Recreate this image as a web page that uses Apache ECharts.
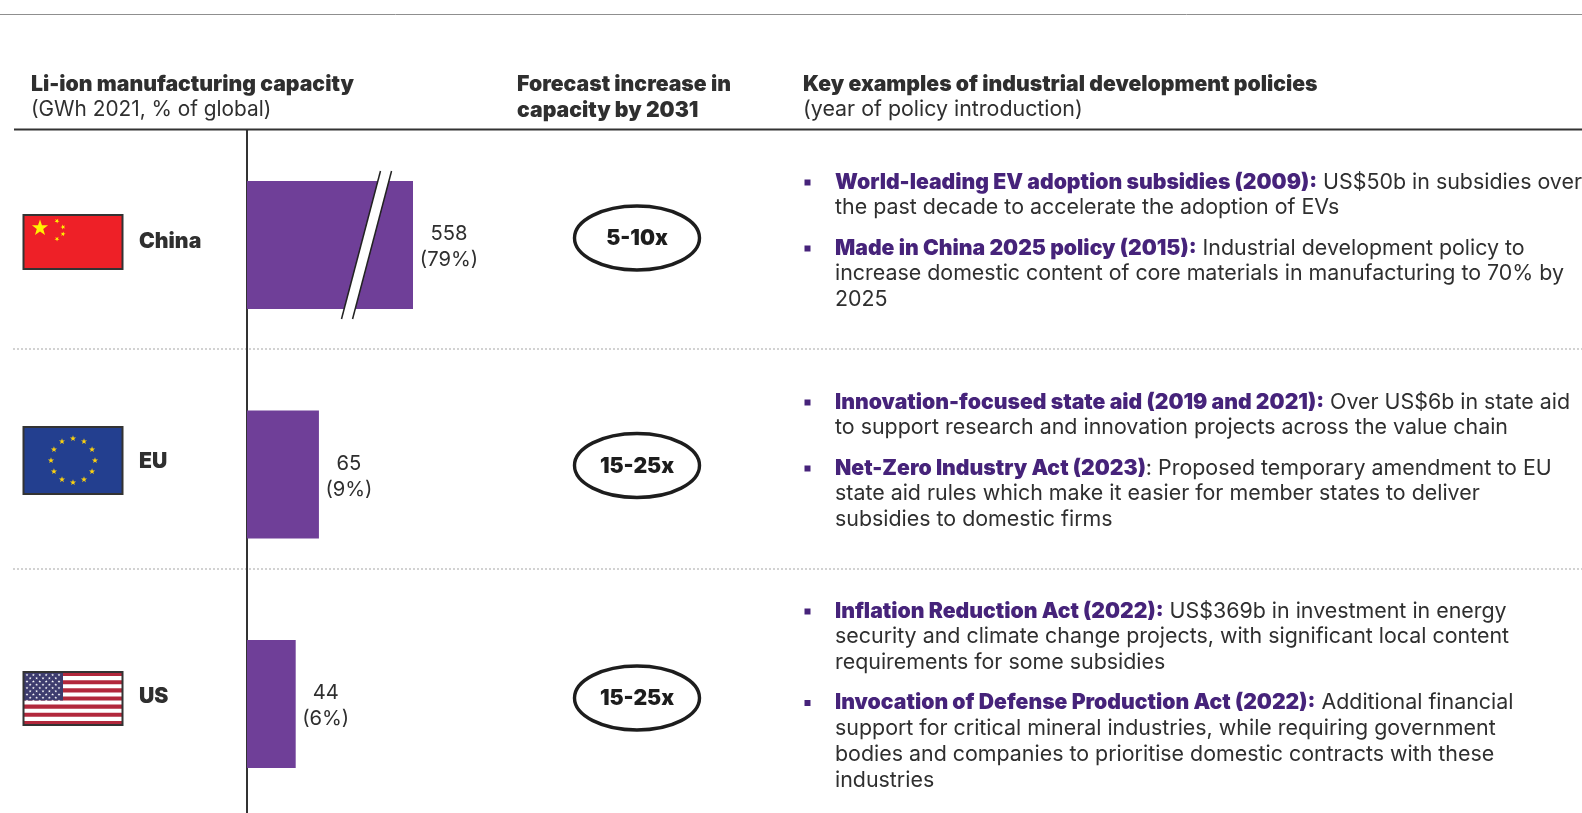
<!DOCTYPE html>
<html>
<head>
<meta charset="utf-8">
<title>Li-ion manufacturing capacity</title>
<style>
  html, body { margin: 0; padding: 0; background: #fff; overflow: hidden; height: 813px; }
  /* taller than the window: the last band runs past the bottom edge */
  #chart { width: 1582px; height: 830px; }
</style>
<script src="https://cdn.jsdelivr.net/npm/echarts@6/dist/echarts.min.js"></script>
</head>
<body>
<div id="chart"></div>
<script>
const regions = ['China', 'EU', 'US'];
const capacity = [558, 65, 44];
const shares = ['79%', '9%', '6%'];
const forecast = ['5-10x', '15-25x', '15-25x'];
const axisBreak = { start: 103, end: 521, gap: 10 };

const policiesChina = [
  '{b|World-leading EV adoption subsidies (2009):} US$50b in subsidies over',
  'the past decade to accelerate the adoption of EVs',
  '{b|Made in China 2025 policy (2015):} Industrial development policy to',
  'increase domestic content of core materials in manufacturing to 70% by',
  '2025'
];
const policiesEU = [
  '{b|Innovation-focused state aid (2019 and 2021):} Over US$6b in state aid',
  'to support research and innovation projects across the value chain',
  '{b|Net-Zero Industry Act (2023)}: Proposed temporary amendment to EU',
  'state aid rules which make it easier for member states to deliver',
  'subsidies to domestic firms'
];
const policiesUS = [
  '{b|Inflation Reduction Act (2022):} US$369b in investment in energy',
  'security and climate change projects, with significant local content',
  'requirements for some subsidies',
  '{b|Invocation of Defense Production Act (2022):} Additional financial',
  'support for critical mineral industries, while requiring government',
  'bodies and companies to prioritise domestic contracts with these',
  'industries'
];

const FONT = 'Inter, "Noto Sans", sans-serif';
const INK = '#2f2f2f';
const PURPLE = '#6f3f98';
const DEEP = '#46237a';
const BODY = 21.4;
const BOLD = 21.2;

const chart = echarts.init(document.getElementById('chart'), null, { renderer: 'canvas' });

function text(x, y, str, size, weight, color) {
  return {
    type: 'text', x, y,
    style: {
      text: str, fill: color || INK, verticalAlign: 'middle', align: 'left',
      font: `${weight || 400} ${size}px ${FONT}`
    }
  };
}

function line(x1, y1, x2, y2, stroke, width, dash) {
  return {
    type: 'line',
    shape: { x1, y1, x2, y2 },
    style: { stroke, lineWidth: width, lineDash: dash || null }
  };
}

function star(cx, cy, r, fill, rot) {
  const pts = [];
  for (let i = 0; i < 10; i++) {
    const a = -Math.PI / 2 + (rot || 0) + i * Math.PI / 5;
    const rr = i % 2 ? r * 0.4 : r;
    pts.push([cx + rr * Math.cos(a), cy + rr * Math.sin(a)]);
  }
  return { type: 'polygon', shape: { points: pts }, style: { fill } };
}

function rect(x, y, width, height, fill) {
  return { type: 'rect', shape: { x, y, width, height }, style: { fill } };
}

function flagFrame(y, h) {
  return { type: 'rect', shape: { x: 23.5, y, width: 99, height: h }, style: { fill: 'none', stroke: '#333', lineWidth: 2 } };
}

function chinaFlag() {
  const y = 215, h = 54;
  return [
    rect(23, y, 100, h, '#ee2027'),
    star(40, 228, 8.5, '#fff200'),
    star(57, 221, 2.6, '#fff200', 0.5),
    star(63, 227, 2.6, '#fff200', 0.9),
    star(63, 234, 2.6, '#fff200', 0.2),
    star(57, 239, 2.6, '#fff200', 0.6),
    flagFrame(y, h)
  ];
}

function euFlag() {
  const y = 427, h = 67, out = [rect(23, y, 100, h, '#233f8f')];
  for (let i = 0; i < 12; i++) {
    const a = i * Math.PI / 6;
    out.push(star(73 + 22 * Math.sin(a), 460.5 - 22 * Math.cos(a), 3.2, '#fdd20e'));
  }
  out.push(flagFrame(y, h));
  return out;
}

function usFlag() {
  const y = 672, h = 53, out = [rect(23, y, 100, h, '#fff')];
  const sh = h / 13;
  for (let i = 0; i < 13; i += 2) out.push(rect(23, y + i * sh, 100, sh, '#b2283c'));
  out.push(rect(24, y, 39, sh * 7, '#3d3c6e'));
  for (let r = 0; r < 9; r++) {
    const n = r % 2 ? 5 : 6;
    for (let c = 0; c < n; c++) {
      out.push(star(27 + (r % 2 ? 3.2 : 0) + c * 6.4, y + 3 + r * 3.25, 1.5, '#fff'));
    }
  }
  out.push(flagFrame(y, h));
  return out;
}

function policyBlock(lines, ys, bulletIdx) {
  const out = [];
  lines.forEach((l, i) => {
    const t = text(835, ys[i], l, BODY, 400);
    t.style.rich = { b: { font: `900 ${BOLD}px ${FONT}`, fill: DEEP } };
    out.push(t);
  });
  bulletIdx.forEach(i => out.push(rect(804.5, ys[i] - 3, 6, 6, DEEP)));
  return out;
}

const elements = [
  line(0, 14.5, 1582, 14.5, '#8f8f8f', 1),
  line(14, 129.5, 1582, 129.5, '#333', 2),
  line(13, 349, 1582, 349, '#c4c4c4', 1.5, [2, 2]),
  line(13, 569, 1582, 569, '#c4c4c4', 1.5, [2, 2]),
  text(31, 85, 'Li-ion manufacturing capacity', BOLD, 900),
  text(31, 110, '(GWh 2021, % of global)', 20.8, 400),
  text(517, 85, 'Forecast increase in', BOLD, 900),
  text(517, 111, 'capacity by 2031', BOLD, 900),
  text(803, 85, 'Key examples of industrial development policies', BOLD, 900),
  text(803, 110, '(year of policy introduction)', BODY, 400),
  text(139, 241.5, regions[0], BOLD, 900),
  text(139, 461.5, regions[1], BOLD, 900),
  text(139, 696.5, regions[2], BOLD, 900),
  ...chinaFlag(),
  ...euFlag(),
  ...usFlag(),
  ...policyBlock(policiesChina, [182.5, 207.5, 248.5, 273.5, 299.5], [0, 2]),
  ...policyBlock(policiesEU, [402.5, 427.5, 468.5, 493.5, 519.5], [0, 2]),
  ...policyBlock(policiesUS, [611.5, 636.5, 662.5, 703, 728.5, 754.5, 780.5], [0, 3])
];

const ovalOffset = [-7, -9, -6];

chart.setOption({
  animation: false,
  backgroundColor: '#fff',
  grid: { left: 247, top: 130.25, width: 166, height: 688.5 },
  xAxis: {
    type: 'value', min: 0, max: 558, show: false,
    breaks: [{ start: axisBreak.start, end: axisBreak.end, gap: axisBreak.gap }],
    breakArea: { show: false },
    splitLine: { show: false }
  },
  yAxis: {
    type: 'category', data: regions, inverse: true,
    axisLine: { show: true, onZero: false, lineStyle: { color: '#333', width: 2 } },
    axisTick: { show: false },
    axisLabel: { show: false }
  },
  graphic: { elements },
  series: [
    {
      type: 'bar',
      data: capacity.map((v, i) => ({ value: v, label: { distance: i === 0 ? 36 : 30 } })),
      barWidth: 128,
      itemStyle: { color: PURPLE },
      label: {
        show: true, position: 'right', align: 'center', offset: [0, 2],
        color: INK, fontFamily: FONT, fontSize: 20.2, lineHeight: 26,
        formatter: p => `${capacity[p.dataIndex]}\n(${shares[p.dataIndex]})`
      }
    },
    {
      // break mark across the China bar
      type: 'custom',
      data: [0],
      clip: false,
      z: 5,
      renderItem(params, api) {
        const a = api.coord([axisBreak.start, 0]);
        const b = api.coord([axisBreak.end, 0]);
        const dx = 19.5, dy = 74;
        return {
          type: 'group',
          children: [
            { type: 'polygon', shape: { points: [[a[0] - dx, a[1] + dy], [a[0] + dx, a[1] - dy], [b[0] + dx, b[1] - dy], [b[0] - dx, b[1] + dy]] }, style: { fill: '#fff' } },
            { type: 'line', shape: { x1: a[0] - dx, y1: a[1] + dy, x2: a[0] + dx, y2: a[1] - dy }, style: { stroke: '#222', lineWidth: 1.5 } },
            { type: 'line', shape: { x1: b[0] - dx, y1: b[1] + dy, x2: b[0] + dx, y2: b[1] - dy }, style: { stroke: '#222', lineWidth: 1.5 } }
          ]
        };
      }
    },
    {
      // forecast ovals, one per category
      type: 'custom',
      data: forecast.map((f, i) => [i, f]),
      clip: false,
      renderItem(params, api) {
        const y = api.coord([0, api.value(0)])[1] + ovalOffset[params.dataIndex];
        return {
          type: 'group',
          children: [
            { type: 'ellipse', shape: { cx: 637, cy: y, rx: 62.5, ry: 32 }, style: { fill: '#fff', stroke: '#1d1d1d', lineWidth: 3.4 } },
            { type: 'text', style: { x: 637, y: y + 1, text: forecast[params.dataIndex], align: 'center', verticalAlign: 'middle', fill: '#1d1d1d', font: `900 ${BOLD}px ${FONT}` } }
          ]
        };
      }
    }
  ]
});

window.addEventListener('resize', () => chart.resize());
</script>
</body>
</html>
